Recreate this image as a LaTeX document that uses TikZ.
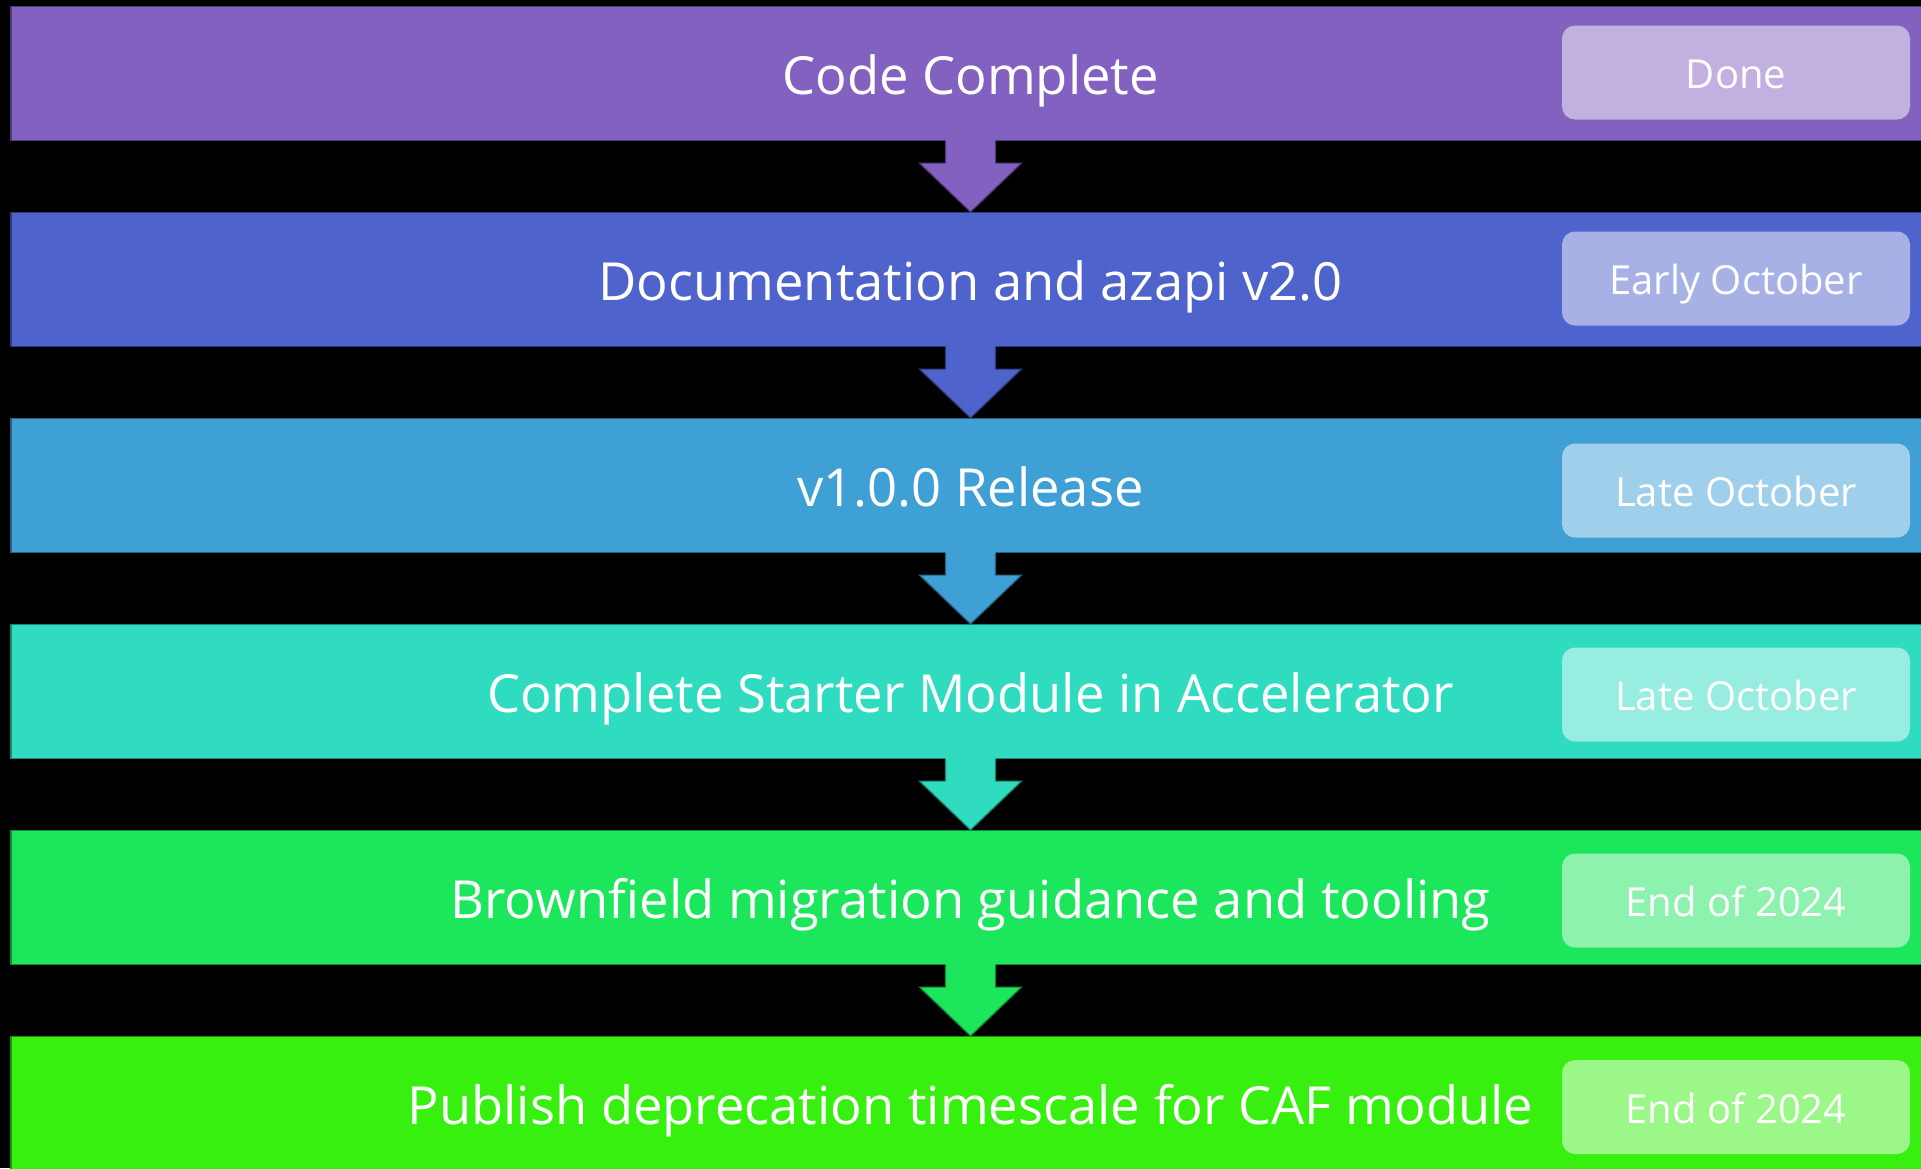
\documentclass[tikz,border=0pt]{standalone}
\usepackage{fontspec}
\setmainfont{Open Sans}
\usetikzlibrary{calc}
\definecolor{cA}{HTML}{8361C1}
\definecolor{cB}{HTML}{4F63CC}
\definecolor{cC}{HTML}{3FA0D5}
\definecolor{cD}{HTML}{2FDCC0}
\definecolor{cE}{HTML}{1CE65C}
\definecolor{cF}{HTML}{37F010}
\tikzset{
  bar/.style={rectangle, minimum width=1919pt, minimum height=134pt, inner sep=0pt,
    fill=#1, draw=#1!60!black, line width=1.2pt, text=white,
    text height=42.5pt, text depth=0pt,
    font=\fontsize{52.5}{63}\selectfont},
  badge/.style={rectangle, rounded corners=13pt, minimum width=348pt, minimum height=94pt,
    inner sep=0pt, fill=white, fill opacity=0.5, text opacity=1, text=white,
    text height=32.5pt, text depth=0pt,
    font=\fontsize{40}{48}\selectfont},
}
\newcommand{\flowarr}[3]{%
  \fill[#3] ($(#1.south)+(-25pt,1pt)$) -- ($(#1.south)+(-25pt,-22pt)$) -- ($(#1.south)+(-51pt,-22pt)$)
    -- (#2.north) -- ($(#1.south)+(51pt,-22pt)$) -- ($(#1.south)+(25pt,-22pt)$) -- ($(#1.south)+(25pt,1pt)$) -- cycle;
  \draw[#3!60!black, line width=1.2pt] ($(#1.south)+(-25pt,0pt)$) -- ($(#1.south)+(-25pt,-22pt)$) -- ($(#1.south)+(-51pt,-22pt)$)
    -- (#2.north) -- ($(#1.south)+(51pt,-22pt)$) -- ($(#1.south)+(25pt,-22pt)$) -- ($(#1.south)+(25pt,0pt)$);
}
\begin{document}
\begin{tikzpicture}[x=1pt,y=-1pt]
\fill[black] (0,0) rectangle (1921,1168);
\useasboundingbox (0,0) rectangle (1921,1168);
\clip (0,0) rectangle (1921,1168);
\node[bar=cA] (b1) at (970.5,73.5) {Code Complete};
\node[bar=cB] (b2) at (970.5,279.5) {Documentation and azapi v2.0};
\node[bar=cC] (b3) at (970.5,485.5) {v1.0.0 Release};
\node[bar=cD] (b4) at (970.5,691.5) {Complete Starter Module in Accelerator};
\node[bar=cE] (b5) at (970.5,897.5) {Brownfield migration guidance and tooling};
\node[bar=cF] (b6) at (970.5,1103.5) {Publish deprecation timescale for CAF module};
\node[badge] (d1) at (1736,72.5) {Done};
\node[badge] (d2) at (1736,278.5) {Early October};
\node[badge] (d3) at (1736,490.5) {Late October};
\node[badge] (d4) at (1736,694.5) {Late October};
\node[badge] (d5) at (1736,900.5) {End of 2024};
\node[badge] (d6) at (1736,1107) {End of 2024};
\flowarr{b1}{b2}{cA}
\flowarr{b2}{b3}{cB}
\flowarr{b3}{b4}{cC}
\flowarr{b4}{b5}{cD}
\flowarr{b5}{b6}{cE}
\end{tikzpicture}
\end{document}
